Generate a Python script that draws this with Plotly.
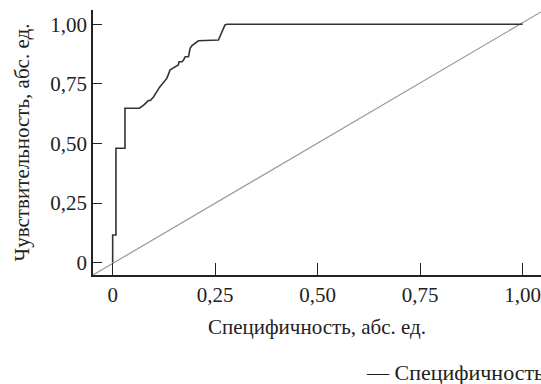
import plotly.graph_objects as go

# ROC curve (1 - specificity on x, sensitivity on y)
roc_x = [0, 0, 0.008, 0.008, 0.03, 0.03, 0.065, 0.075, 0.087, 0.092, 0.1, 0.104,
         0.11, 0.114, 0.12, 0.126, 0.132, 0.136, 0.14, 0.146, 0.152, 0.16, 0.162,
         0.169, 0.173, 0.177, 0.185, 0.189, 0.193, 0.209, 0.258, 0.266, 0.274,
         0.279, 1.0]
roc_y = [0, 0.116, 0.116, 0.48, 0.48, 0.648, 0.648, 0.66, 0.68, 0.68, 0.696, 0.71,
         0.724, 0.735, 0.748, 0.76, 0.773, 0.79, 0.808, 0.815, 0.822, 0.829, 0.843,
         0.843, 0.85, 0.864, 0.864, 0.899, 0.91, 0.931, 0.934, 0.962, 0.997,
         1.0, 1.0]

# reference (chance) line
diag_x = [-0.048, 1.045]
diag_y = [-0.052, 1.052]

tick_vals = [0, 0.25, 0.5, 0.75, 1.0]
tick_text = ["0", "0,25", "0,50", "0,75", "1,00"]

x_title = "Специфичность, абс. ед."
y_title = "Чувствительность, абс. ед."
legend_text = "— Специфичность"

FONT = "Liberation Serif"
FS = 21
INK = "#222222"

fig = go.Figure()
fig.add_trace(go.Scatter(x=diag_x, y=diag_y, mode="lines",
                         line=dict(color="#9a9a9a", width=1.2),
                         showlegend=False, hoverinfo="skip"))
fig.add_trace(go.Scatter(x=roc_x, y=roc_y, mode="lines",
                         line=dict(color="#333333", width=1.6),
                         showlegend=False))

fig.update_layout(
    width=541, height=384, margin=dict(l=93, r=0, t=10, b=109),
    plot_bgcolor="white", paper_bgcolor="white",
    font=dict(family=FONT, size=FS, color=INK),
    xaxis=dict(
        range=[-0.048, 1.045], showgrid=False, zeroline=False, showline=True,
        linecolor=INK, linewidth=1.5, ticks="inside", ticklen=12, tickwidth=1.3,
        tickcolor=INK, tickvals=tick_vals, ticktext=tick_text,
        tickfont=dict(family=FONT, size=FS, color=INK),
        title=dict(text=x_title, font=dict(family=FONT, size=21, color=INK), standoff=13),
    ),
    yaxis=dict(
        range=[-0.052, 1.06], showgrid=False, zeroline=False, showline=True,
        linecolor=INK, linewidth=1.5, ticks="inside", ticklen=9, tickwidth=1.3,
        tickcolor=INK, tickvals=tick_vals, ticktext=tick_text,
        tickfont=dict(family=FONT, size=FS, color=INK),
        title=dict(text=y_title, font=dict(family=FONT, size=21, color=INK), standoff=15),
    ),
)

fig.add_annotation(text=legend_text, xref="paper", yref="paper",
                   x=(364 - 93) / 448, y=(275 - 372) / 265,
                   xanchor="left", yanchor="middle", showarrow=False,
                   font=dict(family=FONT, size=22, color=INK))

fig.write_html("out.html")
